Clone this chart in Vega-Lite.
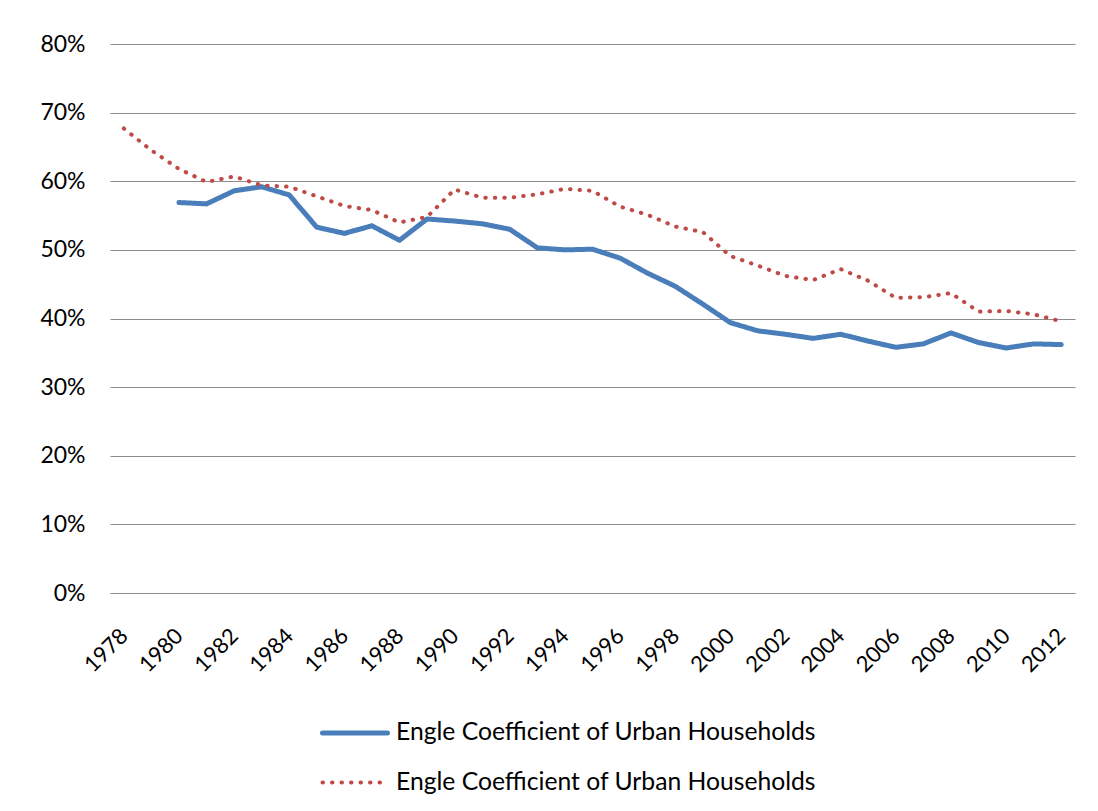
{
  "$schema": "https://vega.github.io/schema/vega-lite/v6.json",
  "width": 965,
  "height": 549,
  "autosize": {"type": "none"},
  "padding": {"left": 110, "top": 44, "right": 23, "bottom": 218},
  "background": "white",
  "config": {"view": {"stroke": null}, "font": "Lato"},
  "data": {"values": [
    {"year": 1980, "series": "Urban", "value": 56.9},
    {"year": 1981, "series": "Urban", "value": 56.7},
    {"year": 1982, "series": "Urban", "value": 58.6},
    {"year": 1983, "series": "Urban", "value": 59.2},
    {"year": 1984, "series": "Urban", "value": 58.0},
    {"year": 1985, "series": "Urban", "value": 53.3},
    {"year": 1986, "series": "Urban", "value": 52.4},
    {"year": 1987, "series": "Urban", "value": 53.5},
    {"year": 1988, "series": "Urban", "value": 51.4},
    {"year": 1989, "series": "Urban", "value": 54.5},
    {"year": 1990, "series": "Urban", "value": 54.2},
    {"year": 1991, "series": "Urban", "value": 53.8},
    {"year": 1992, "series": "Urban", "value": 53.0},
    {"year": 1993, "series": "Urban", "value": 50.3},
    {"year": 1994, "series": "Urban", "value": 50.0},
    {"year": 1995, "series": "Urban", "value": 50.1},
    {"year": 1996, "series": "Urban", "value": 48.8},
    {"year": 1997, "series": "Urban", "value": 46.6},
    {"year": 1998, "series": "Urban", "value": 44.7},
    {"year": 1999, "series": "Urban", "value": 42.1},
    {"year": 2000, "series": "Urban", "value": 39.4},
    {"year": 2001, "series": "Urban", "value": 38.2},
    {"year": 2002, "series": "Urban", "value": 37.7},
    {"year": 2003, "series": "Urban", "value": 37.1},
    {"year": 2004, "series": "Urban", "value": 37.7},
    {"year": 2005, "series": "Urban", "value": 36.7},
    {"year": 2006, "series": "Urban", "value": 35.8},
    {"year": 2007, "series": "Urban", "value": 36.3},
    {"year": 2008, "series": "Urban", "value": 37.9},
    {"year": 2009, "series": "Urban", "value": 36.5},
    {"year": 2010, "series": "Urban", "value": 35.7},
    {"year": 2011, "series": "Urban", "value": 36.3},
    {"year": 2012, "series": "Urban", "value": 36.2},
    {"year": 1978, "series": "Rural", "value": 67.7},
    {"year": 1979, "series": "Rural", "value": 64.5},
    {"year": 1980, "series": "Rural", "value": 61.8},
    {"year": 1981, "series": "Rural", "value": 59.9},
    {"year": 1982, "series": "Rural", "value": 60.7},
    {"year": 1983, "series": "Rural", "value": 59.4},
    {"year": 1984, "series": "Rural", "value": 59.2},
    {"year": 1985, "series": "Rural", "value": 57.8},
    {"year": 1986, "series": "Rural", "value": 56.4},
    {"year": 1987, "series": "Rural", "value": 55.8},
    {"year": 1988, "series": "Rural", "value": 54.0},
    {"year": 1989, "series": "Rural", "value": 54.8},
    {"year": 1990, "series": "Rural", "value": 58.8},
    {"year": 1991, "series": "Rural", "value": 57.6},
    {"year": 1992, "series": "Rural", "value": 57.6},
    {"year": 1993, "series": "Rural", "value": 58.1},
    {"year": 1994, "series": "Rural", "value": 58.9},
    {"year": 1995, "series": "Rural", "value": 58.6},
    {"year": 1996, "series": "Rural", "value": 56.3},
    {"year": 1997, "series": "Rural", "value": 55.1},
    {"year": 1998, "series": "Rural", "value": 53.4},
    {"year": 1999, "series": "Rural", "value": 52.6},
    {"year": 2000, "series": "Rural", "value": 49.1},
    {"year": 2001, "series": "Rural", "value": 47.7},
    {"year": 2002, "series": "Rural", "value": 46.2},
    {"year": 2003, "series": "Rural", "value": 45.6},
    {"year": 2004, "series": "Rural", "value": 47.2},
    {"year": 2005, "series": "Rural", "value": 45.5},
    {"year": 2006, "series": "Rural", "value": 43.0},
    {"year": 2007, "series": "Rural", "value": 43.1},
    {"year": 2008, "series": "Rural", "value": 43.7},
    {"year": 2009, "series": "Rural", "value": 41.0},
    {"year": 2010, "series": "Rural", "value": 41.1},
    {"year": 2011, "series": "Rural", "value": 40.6},
    {"year": 2012, "series": "Rural", "value": 39.6}
  ]},
  "mark": {"type": "line", "strokeCap": "round", "strokeJoin": "round"},
  "encoding": {
    "x": {
      "field": "year", "type": "quantitative",
      "scale": {"domain": [1977.5, 2012.5], "nice": false, "zero": false},
      "axis": {
        "values": [1978, 1980, 1982, 1984, 1986, 1988, 1990, 1992, 1994, 1996, 1998, 2000, 2002, 2004, 2006, 2008, 2010, 2012],
        "format": "d", "labelAngle": -45, "labelAlign": "right", "labelBaseline": "middle",
        "grid": false, "ticks": false, "domain": false,
        "title": null, "labelFontSize": 22, "labelColor": "#000", "labelPadding": 39
      }
    },
    "y": {
      "field": "value", "type": "quantitative",
      "scale": {"domain": [0, 80], "nice": false},
      "axis": {
        "values": [0, 10, 20, 30, 40, 50, 60, 70, 80],
        "labelExpr": "datum.value + '%'", "grid": true, "gridColor": "#8c8c8c", "gridWidth": 1.2,
        "ticks": false, "domain": false, "title": null,
        "labelFontSize": 23, "labelColor": "#000", "labelPadding": 25
      }
    },
    "color": {
      "field": "series", "type": "nominal",
      "scale": {"domain": ["Urban", "Rural"], "range": ["#4A7EBB", "#BE4B48"]},
      "legend": {
        "orient": "none", "legendX": 210, "legendY": 654, "direction": "vertical", "title": null,
        "labelExpr": "'Engle Coefficient of Urban Households'",
        "labelFontSize": 24.7, "labelColor": "#000", "labelLimit": 0,
        "symbolType": "stroke", "symbolSize": 4225, "labelOffset": 6, "rowPadding": 3,
        "encode": {"symbols": {"update": {"strokeCap": {"value": "round"}}}}
      }
    },
    "strokeDash": {
      "field": "series", "type": "nominal",
      "scale": {"domain": ["Urban", "Rural"], "range": [[1, 0], [0.5, 9]]}
    },
    "strokeWidth": {
      "field": "series", "type": "nominal",
      "scale": {"domain": ["Urban", "Rural"], "range": [5, 4]}
    }
  }
}
